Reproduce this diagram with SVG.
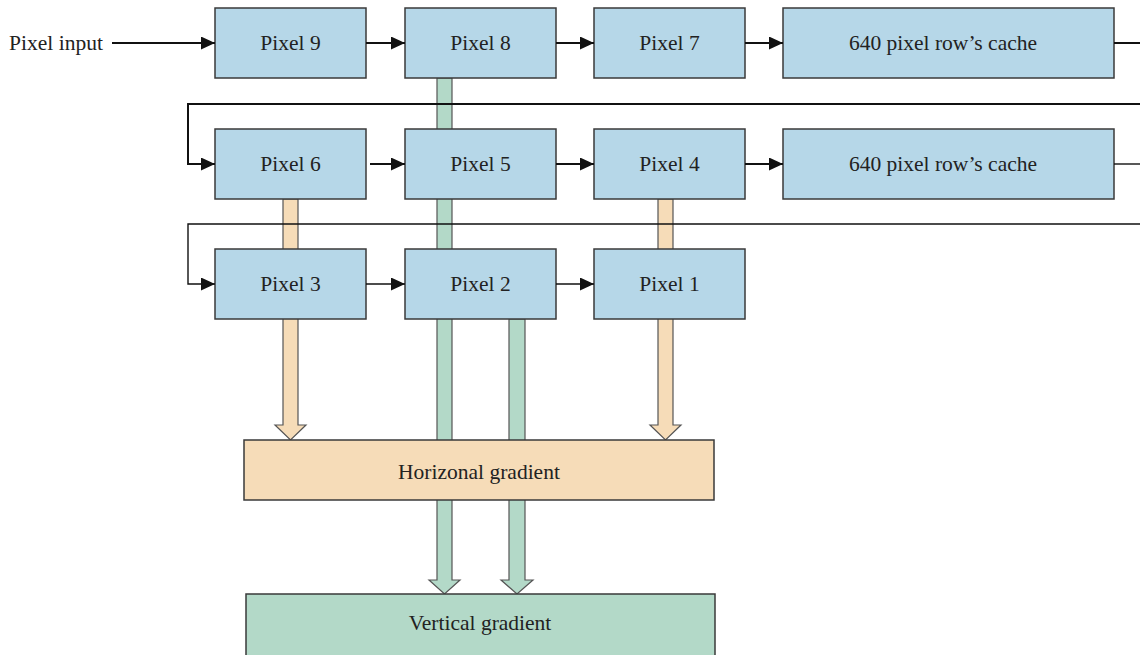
<svg xmlns="http://www.w3.org/2000/svg" width="1140" height="655" viewBox="0 0 1140 655">
<style>
.box{fill:#b6d7e8;stroke:#3a3a3a;stroke-width:1.5}
.hg{fill:#f6dcb8;stroke:#3a3a3a;stroke-width:1.5}
.vg{fill:#b3d9c8;stroke:#3a3a3a;stroke-width:1.5}
.ob{fill:#f6dcb8;stroke:#555;stroke-width:1.2}
.gb{fill:#b3d9c8;stroke:#555;stroke-width:1.2}
.t{font-family:"Liberation Serif","Times New Roman",serif;font-size:21.5px;fill:#222;text-anchor:middle}
.ln{fill:none;stroke:#111;stroke-width:2}
.ln2{fill:none;stroke:#111;stroke-width:1.4}
</style>
<defs>
<marker id="ah" markerUnits="userSpaceOnUse" markerWidth="15" markerHeight="13" refX="14" refY="6.5" orient="auto">
<path d="M0,0 L14,6.5 L0,13 z" fill="#111"/>
</marker>
</defs>
<g id="bars">
<polygon class="gb" points="437,78 452,78 452,580 460,580 444.5,594 429,580 437,580"/>
<polygon class="gb" points="509,319 525,319 525,580 533,580 517,594 501,580 509,580"/>
<polygon class="ob" points="283,199 298,199 298,425 306,425 290.5,440 275,425 283,425"/>
<polygon class="ob" points="658,199 673,199 673,425 681,425 665.5,440 650,425 658,425"/>
</g>
<g id="pixel-input"><text class="t" x="56" y="49.5">Pixel input</text></g>
<g id="pixel9"><rect class="box" x="215" y="8" width="151" height="70"/><text class="t" x="290.5" y="49.5">Pixel 9</text></g>
<g id="pixel8"><rect class="box" x="405" y="8" width="151" height="70"/><text class="t" x="480.5" y="49.5">Pixel 8</text></g>
<g id="pixel7"><rect class="box" x="594" y="8" width="151" height="70"/><text class="t" x="669.5" y="49.5">Pixel 7</text></g>
<g id="cache1"><rect class="box" x="783" y="8" width="331" height="70"/><text class="t" x="943" y="49.5">640 pixel row’s cache</text></g>
<g id="pixel6"><rect class="box" x="215" y="129" width="151" height="70"/><text class="t" x="290.5" y="170.5">Pixel 6</text></g>
<g id="pixel5"><rect class="box" x="405" y="129" width="151" height="70"/><text class="t" x="480.5" y="170.5">Pixel 5</text></g>
<g id="pixel4"><rect class="box" x="594" y="129" width="151" height="70"/><text class="t" x="669.5" y="170.5">Pixel 4</text></g>
<g id="cache2"><rect class="box" x="783" y="129" width="331" height="70"/><text class="t" x="943" y="170.5">640 pixel row’s cache</text></g>
<g id="pixel3"><rect class="box" x="215" y="249" width="151" height="70"/><text class="t" x="290.5" y="290.5">Pixel 3</text></g>
<g id="pixel2"><rect class="box" x="405" y="249" width="151" height="70"/><text class="t" x="480.5" y="290.5">Pixel 2</text></g>
<g id="pixel1"><rect class="box" x="594" y="249" width="151" height="70"/><text class="t" x="669.5" y="290.5">Pixel 1</text></g>
<g id="horizontal-gradient"><rect class="hg" x="244" y="440" width="470" height="60"/><text class="t" x="479" y="478.5">Horizonal gradient</text></g>
<g id="vertical-gradient"><rect class="vg" x="246" y="594" width="469" height="70"/><text class="t" x="480" y="629.5">Vertical gradient</text></g>
<g id="connectors">
<path class="ln" d="M112,43 H215" marker-end="url(#ah)"/>
<path class="ln" d="M366,43 H405" marker-end="url(#ah)"/>
<path class="ln" d="M556,43 H594" marker-end="url(#ah)"/>
<path class="ln" d="M745,43 H783" marker-end="url(#ah)"/>
<path class="ln" d="M1114,43 H1140"/>
<path class="ln" d="M1140,104 H188 V164 H215" marker-end="url(#ah)"/>
<path class="ln" d="M370,164 H405" marker-end="url(#ah)"/>
<path class="ln" d="M556,164 H594" marker-end="url(#ah)"/>
<path class="ln" d="M745,164 H783" marker-end="url(#ah)"/>
<path class="ln2" d="M1114,164 H1140"/>
<path class="ln2" d="M1140,224 H188 V284 H215" marker-end="url(#ah)"/>
<path class="ln2" d="M366,284 H405" marker-end="url(#ah)"/>
<path class="ln2" d="M556,284 H594" marker-end="url(#ah)"/>
</g>
</svg>
